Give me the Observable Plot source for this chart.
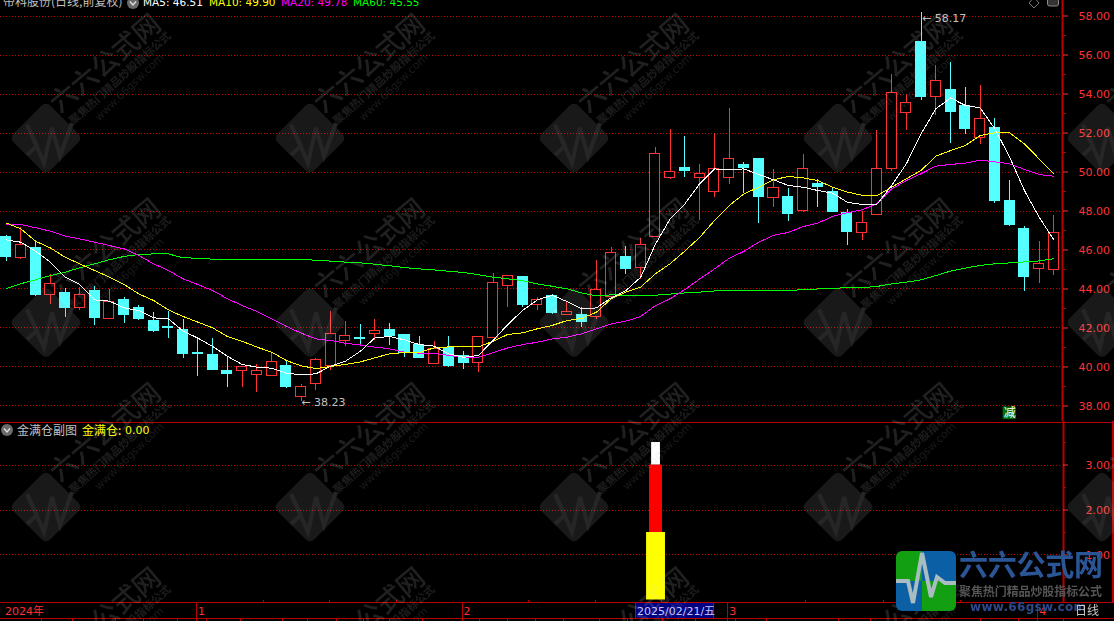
<!DOCTYPE html>
<html><head><meta charset="utf-8">
<script src="https://cdn.jsdelivr.net/npm/d3@7"></script>
<script src="https://cdn.jsdelivr.net/npm/@observablehq/plot@0.6"></script>
<style>
html,body{margin:0;padding:0;background:#000;overflow:hidden}
#w{position:relative;width:1114px;height:621px;background:#000;overflow:hidden}
#w>div,#w>svg{position:absolute;left:0}
svg{background:transparent!important}
text{font-family:"DejaVu Sans","Noto Sans CJK SC",sans-serif}
</style></head><body><div id="w"></div>
<script>
const opens=[46.69,45.58,46.08,43.68,43.82,43.02,43.92,42.45,43.46,43.0,42.38,42.03,41.92,40.74,40.64,39.77,39.79,39.58,39.53,40.03,38.45,39.12,40.04,41.32,41.51,41.68,41.92,41.62,41.15,40.15,40.95,40.57,40.20,41.48,44.14,44.59,43.17,43.65,42.66,42.69,42.56,43.58,45.62,45.07,46.66,49.68,50.18,49.68,48.97,49.68,50.35,50.69,48.66,48.74,47.99,49.36,48.95,47.92,46.86,47.78,50.16,53.02,56.69,53.84,54.23,53.39,51.75,52.28,48.49,47.10,45.02,44.97];
const closes=[45.63,46.27,43.67,44.27,43.0,43.70,42.50,43.34,42.69,42.44,41.87,41.98,40.69,40.69,39.87,39.62,40.01,39.80,40.27,38.95,38.98,40.37,41.70,41.60,41.43,41.86,41.60,40.74,40.44,40.93,40.03,40.23,41.55,44.32,44.68,43.20,43.44,42.79,42.83,42.33,43.96,45.85,45.05,46.27,50.93,50.01,50.03,49.91,50.13,50.68,50.18,48.74,49.19,47.87,50.16,49.21,47.97,46.90,47.39,50.16,54.06,53.55,53.84,54.68,53.07,52.18,52.73,48.49,47.26,44.64,45.29,46.88];
const highs=[46.75,47.17,46.49,44.73,44.01,44.09,44.13,43.97,43.55,43.15,42.79,42.85,42.44,41.51,41.46,40.54,40.01,40.11,40.74,40.33,39.09,40.44,42.85,42.33,42.18,42.44,42.23,41.62,41.56,41.29,41.56,40.79,41.55,44.78,44.68,44.59,43.56,43.70,43.32,43.03,45.46,46.11,46.18,46.59,51.27,52.18,51.82,50.39,51.97,53.26,50.49,50.69,50.13,49.15,50.90,49.60,49.20,48.08,47.96,52.13,55.00,53.96,58.17,55.46,55.62,54.33,54.44,52.74,49.56,47.20,46.44,47.77];
const lows=[45.43,45.53,43.62,43.22,42.56,42.90,42.13,42.45,42.25,42.39,41.79,41.48,40.44,39.53,39.87,38.97,38.97,38.71,39.53,38.91,38.23,38.80,39.84,41.07,41.10,41.36,41.10,40.50,40.44,40.15,39.97,39.87,39.72,41.48,43.05,43.05,42.90,42.69,42.66,42.04,42.44,43.58,44.74,44.49,46.66,49.63,49.72,47.51,48.71,49.36,48.88,47.36,48.18,47.46,47.94,48.18,47.97,46.23,46.49,47.78,50.04,52.13,53.68,52.90,51.48,51.92,51.41,48.39,47.20,43.87,44.28,44.69];
const ma5=[46.52,46.40,45.94,45.38,44.61,44.23,43.44,43.38,43.03,42.90,42.52,42.47,41.84,41.48,41.05,40.55,40.13,39.99,39.94,39.68,39.60,39.65,40.04,40.30,40.80,41.50,41.56,41.39,41.15,41.07,40.67,40.50,40.59,41.36,42.18,42.90,43.44,43.68,43.36,42.98,43.03,43.55,43.92,44.60,46.30,47.60,48.37,49.40,50.16,50.11,50.16,49.87,49.60,49.31,49.22,49.05,48.92,48.45,48.33,48.33,49.30,50.42,51.96,53.24,53.80,53.41,53.29,52.21,50.76,49.05,47.68,46.51];
const ma10=[47.39,47.09,46.45,46.11,45.63,45.29,44.95,44.61,44.23,43.75,43.41,42.93,42.59,42.30,42.01,41.56,41.32,41.02,40.76,40.33,40.06,39.92,40.03,40.13,40.26,40.47,40.68,40.74,40.74,40.98,41.03,41.03,41.03,41.32,41.67,41.75,41.96,42.13,42.38,42.49,42.81,43.50,43.84,44.10,44.78,45.30,45.95,46.65,47.51,48.28,48.88,49.22,49.60,49.77,49.70,49.56,49.22,48.97,48.81,48.78,49.22,49.65,50.08,50.81,51.10,51.36,51.87,52.01,52.01,51.44,50.67,49.90];
const ma20=[47.31,47.31,47.14,46.97,46.71,46.57,46.40,46.23,46.06,45.72,45.29,44.95,44.52,44.23,43.92,43.50,43.15,42.85,42.47,42.08,41.74,41.44,41.36,41.22,41.13,41.02,40.93,40.76,40.71,40.71,40.59,40.50,40.50,40.73,40.98,41.15,41.27,41.44,41.53,41.70,41.96,42.21,42.35,42.59,43.15,43.50,43.97,44.52,45.03,45.58,45.93,46.40,46.75,46.90,47.20,47.38,47.72,47.91,48.06,48.37,49.13,49.56,49.91,50.30,50.39,50.45,50.61,50.52,50.42,50.13,49.87,49.78];
const ma60=[44.01,44.27,44.47,44.69,44.86,45.09,45.29,45.50,45.67,45.77,45.80,45.80,45.60,45.58,45.53,45.53,45.53,45.53,45.53,45.53,45.53,45.47,45.43,45.38,45.34,45.27,45.19,45.10,45.03,44.98,44.91,44.85,44.73,44.61,44.52,44.43,44.26,44.14,44.01,43.80,43.65,43.70,43.68,43.65,43.68,43.74,43.80,43.84,43.90,43.94,43.94,43.94,43.92,43.92,43.97,44.00,44.03,44.07,44.07,44.13,44.26,44.35,44.47,44.69,44.92,45.07,45.21,45.29,45.34,45.39,45.44,45.55];
const priceTicks=[38,40,42,44,46,48,50,52,54,56,58];
const priceMinor=[39,41,43,45,47,49,51,53,55,57];
const subTicks=[1,2,3];
const subMinor=[0.5,1.5,2.5,3.5];
const stackBars=[{from:0,to:1.5,half:0.64,color:"#ffff00"},{from:1.5,to:3,half:0.44,color:"#ff0000"},{from:3,to:3.5,half:0.3,color:"#ffffff"}];
const stackIndex=44;
const monthMarks=[{i:13,t:"1"},{i:31,t:"2"},{i:49,t:"3"},{i:70,t:"4"}];
const upperTicks=[17.45,21.9,26.45,35.4,39.94,44.4,54.2,59.45,64.7];
const lowerTicks=[2.4,4.5,7.4,9.3,11.6,13.6,15.9,18.7,20.4,22.4,24.2,26,28.2,32.1,34,35.9,37.8,40.2,42.1,44.5,46.7,49.4,51.5,56.4,58.6,66,68.6];
const legendItems=[{t:"MA5: 46.51",x:143,c:"#ffffff"},{t:"MA10: 49.90",x:209,c:"#ffff00"},{t:"MA20: 49.78",x:281,c:"#ff00ff"},{t:"MA60: 45.55",x:353,c:"#00ff00"}];

const RED="#ff3232",CYAN="#54ffff",LINE="#b80000",GRID="#c80000";
const idx=d3.range(opens.length);
const xDomain=[-0.373,71.58];
const xOpt={domain:xDomain,range:[0,1062],axis:null};
const up=i=>closes[i]>=opens[i];
const bodyTop=i=>Math.max(opens[i],closes[i]), bodyBot=i=>Math.min(opens[i],closes[i]);
const col=i=>up(i)?RED:CYAN;
const maLine=(arr,c)=>Plot.line(idx,{x:i=>i,y:i=>arr[i],stroke:c,strokeWidth:1,shapeRendering:"crispEdges"});
const wrap=document.getElementById("w");

const pricePlot=Plot.plot({
  width:1114,height:421,marginTop:0,marginBottom:0,marginLeft:0,marginRight:52,
  style:{background:"transparent",overflow:"visible"},
  x:xOpt,y:{domain:[37.205,58.795],range:[421,0]},
  marks:[
    Plot.ruleY(priceTicks,{stroke:GRID,strokeDasharray:"1,2",shapeRendering:"crispEdges"}),
    Plot.ruleX(idx,{x:i=>i,y1:i=>bodyTop(i),y2:i=>highs[i],stroke:col,shapeRendering:"crispEdges"}),
    Plot.ruleX(idx,{x:i=>i,y1:i=>lows[i],y2:i=>bodyBot(i),stroke:col,shapeRendering:"crispEdges"}),
    Plot.rect(idx,{x1:i=>i-0.34,x2:i=>i+0.34,y1:i=>bodyBot(i),y2:i=>bodyTop(i),fill:i=>up(i)?"#000":CYAN,stroke:col,shapeRendering:"crispEdges"}),
    maLine(ma60,"#00ff00"),maLine(ma20,"#ff00ff"),maLine(ma10,"#ffff00"),maLine(ma5,"#ffffff"),
    Plot.text([{i:20,v:38.23,t:"← 38.23"}],{x:"i",y:"v",text:"t",textAnchor:"start",dx:0,dy:1,fill:"#c0c0c0",fontSize:11}),
    Plot.text([{i:62,v:58.17,t:"← 58.17"}],{x:"i",y:"v",text:"t",textAnchor:"start",dx:1,dy:6,fill:"#c0c0c0",fontSize:11}),
    Plot.rect([68],{x1:i=>i-0.44,x2:i=>i+0.44,y1:37.3,y2:37.95,fill:"#007000"}),
    Plot.text([68],{x:i=>i,y:37.62,text:()=>"减",fill:"#fff",fontSize:12}),
    Plot.ruleX([xDomain[1]],{stroke:LINE,strokeWidth:2}),
    Plot.axisY(priceMinor,{anchor:"right",tickSize:3,tickFormat:()=>"",color:LINE,label:null}),
    Plot.axisY(priceTicks,{anchor:"right",tickSize:5,tickPadding:11,tickFormat:d=>d.toFixed(2),color:RED,fontSize:11,label:null})
  ]});
const topBox=document.createElement("div");topBox.style.top="0";topBox.appendChild(pricePlot);wrap.appendChild(topBox);

const pv=py=>(178.5-py)/45;
const hLine=(py,c)=>Plot.ruleY([pv(py)],{x1:xDomain[0],x2:75.6,stroke:c||LINE,shapeRendering:"crispEdges"});
const subPlot=Plot.plot({
  width:1114,height:200,marginTop:0,marginBottom:0,marginLeft:0,marginRight:52,
  style:{background:"transparent",overflow:"visible"},
  x:xOpt,y:{domain:[-0.478,3.967],range:[200,0]},
  marks:[
    Plot.ruleY(subTicks,{stroke:GRID,strokeDasharray:"1,2",shapeRendering:"crispEdges"}),
    Plot.rect(stackBars,{x1:d=>stackIndex+0.04-d.half,x2:d=>stackIndex+0.04+d.half,y1:"from",y2:"to",fill:"color"}),
    hLine(0.5),hLine(181),hLine(197.5),
    Plot.ruleX([xDomain[1]+0.07],{y1:pv(0),y2:pv(181),stroke:LINE,strokeWidth:2}),
    Plot.ruleX([75],{y1:pv(0),y2:pv(181),stroke:LINE,strokeWidth:2}),
    Plot.ruleX(monthMarks,{x:"i",y1:pv(181),y2:pv(200),stroke:LINE,dx:-1.5,shapeRendering:"crispEdges"}),
    Plot.ruleX([xDomain[1]+0.07],{y1:pv(197),y2:pv(200),stroke:LINE}),
    Plot.ruleX(upperTicks,{y1:pv(179),y2:pv(181),stroke:LINE,shapeRendering:"crispEdges"}),
    Plot.ruleX(lowerTicks,{y1:pv(197.5),y2:pv(200),stroke:LINE,shapeRendering:"crispEdges"}),
    Plot.text(monthMarks,{x:"i",y:pv(190),text:"t",textAnchor:"start",dx:0,fill:RED,fontSize:11}),
    Plot.axisY(subMinor,{anchor:"right",tickSize:3,tickFormat:()=>"",color:LINE,label:null}),
    Plot.axisY(subTicks,{anchor:"right",tickSize:5,tickPadding:18,tickFormat:d=>d.toFixed(2),color:RED,fontSize:11,label:null})
  ]});
const subBox=document.createElement("div");subBox.style.top="421px";subBox.appendChild(subPlot);wrap.appendChild(subBox);

const ov=d3.select(wrap).append("svg").attr("width",1114).attr("height",621).style("top","0").style("pointer-events","none");
const CJK='"Noto Sans CJK SC","DejaVu Sans",sans-serif';
function icon(x,y){const g=ov.append("g");g.append("circle").attr("cx",x).attr("cy",y).attr("r",6).attr("fill","#6a6a6a");
 g.append("path").attr("d",`M${x-3},${y-1.5}L${x},${y+2}L${x+3},${y-1.5}`).attr("fill","none").attr("stroke","#ddd").attr("stroke-width",1.4);}
// headers
ov.append("text").attr("x",3).attr("y",6).attr("fill","#c0c0c0").attr("font-size",12).style("font-family",CJK).text("帝科股份(日线,前复权)");
icon(133,3);
ov.selectAll(".lg").data(legendItems).join("text").attr("x",d=>d.x).attr("y",6).attr("fill",d=>d.c).attr("font-size",10.5).text(d=>d.t);
ov.append("path").attr("d","M1034,-3L1039,3L1034,8L1029,3Z").attr("fill","none").attr("stroke","#777");
ov.append("rect").attr("x",1047.5).attr("y",-6).attr("width",11).attr("height",12).attr("rx",2).attr("fill","#333").attr("stroke","#888");
icon(7,430);
ov.append("text").attr("x",17).attr("y",435).attr("fill","#c0c0c0").attr("font-size",12).style("font-family",CJK).text("金满仓副图");
ov.append("text").attr("x",82).attr("y",435).attr("fill","#ffff00").attr("font-size",12).style("font-family",CJK).text("金满仓:");
ov.append("text").attr("x",125).attr("y",434).attr("fill","#ffff00").attr("font-size",11).text("0.00");
ov.append("text").attr("x",5).attr("y",615).attr("fill",RED).attr("font-size",11).style("font-family",'"DejaVu Sans","Noto Sans CJK SC",sans-serif').text("2024年");
ov.append("rect").attr("x",635.5).attr("y",602.5).attr("width",78).attr("height",16).attr("fill","#000080").attr("stroke",LINE);
ov.append("text").attr("x",637).attr("y",614.5).attr("fill","#c8c8ff").attr("font-size",11).style("font-family",'"DejaVu Sans","Noto Sans CJK SC",sans-serif').text("2025/02/21/五");
// watermark
const pulse="M-19,17L-9,8L-19,-13L-2,25L6,-10L14,18L26,-15";
const wm=ov.append("g").attr("opacity",0.15).attr("fill","#a8a8a8");
for(const cy of [138,322.5,507,691.5]) for(const cx of [46,310,574,838,1102]){
  const g=wm.append("g").attr("transform",`translate(${cx},${cy})`);
  g.append("rect").attr("x",-26).attr("y",-26).attr("width",52).attr("height",52).attr("rx",6).attr("transform","rotate(45)");
  g.append("path").attr("d",pulse).attr("fill","none").attr("stroke","#ffffff").attr("stroke-width",4);
  g.append("text").attr("transform","translate(59,-75) rotate(-40)").attr("text-anchor","middle").attr("dy","0.36em").attr("font-size",27).attr("font-weight",500).style("font-family",CJK).attr("fill","#d8d8d8").text("六六公式网");
  g.append("text").attr("transform","translate(74,-60) rotate(-42)").attr("text-anchor","middle").attr("dy","0.36em").attr("font-size",11).attr("font-weight",700).style("font-family",CJK).attr("fill","#c0c0c0").text("聚焦热门精品炒股指标公式");
  g.append("text").attr("transform","translate(83,-51) rotate(-44)").attr("text-anchor","middle").attr("dy","0.36em").attr("font-size",11).attr("fill","#a8a8a8").text("www.66gsw.com");
}
// bottom-right logo
const logo=ov.append("g");
logo.append("clipPath").attr("id","lc").append("rect").attr("x",896).attr("y",551).attr("width",60).attr("height",60).attr("rx",6);
const lc=logo.append("g").attr("clip-path","url(#lc)");
[[896,551,26,30,"#12a012"],[922,551,34,30,"#0b5fa5"],[896,581,26,30,"#0b5fa5"],[922,581,34,30,"#12a012"]].forEach(r=>lc.append("rect").attr("x",r[0]).attr("y",r[1]).attr("width",r[2]).attr("height",r[3]).attr("fill",r[4]));
lc.append("path").attr("d","M896,581L908,581L913,603L922,553L931,597L937,577L945,583L956,583").attr("fill","none").attr("stroke","#a9bcc0").attr("stroke-width",4);
logo.append("text").attr("x",959).attr("y",576).attr("font-size",29).attr("font-weight",700).attr("fill","#2a5596").attr("textLength",144).style("font-family",CJK).text("六六公式网");
logo.append("text").attr("x",959).attr("y",596).attr("font-size",12).attr("font-weight",700).attr("fill","#555").attr("textLength",143).style("font-family",CJK).text("聚焦热门精品炒股指标公式");
logo.append("text").attr("x",970).attr("y",611).attr("font-size",12).attr("font-weight",700).attr("fill","#2a4a8c").attr("textLength",116).text("www.66gsw.com");
ov.append("text").attr("x",1075).attr("y",615).attr("fill","#c8c8c8").attr("font-size",12).style("font-family",CJK).text("日线");
</script></body></html>
